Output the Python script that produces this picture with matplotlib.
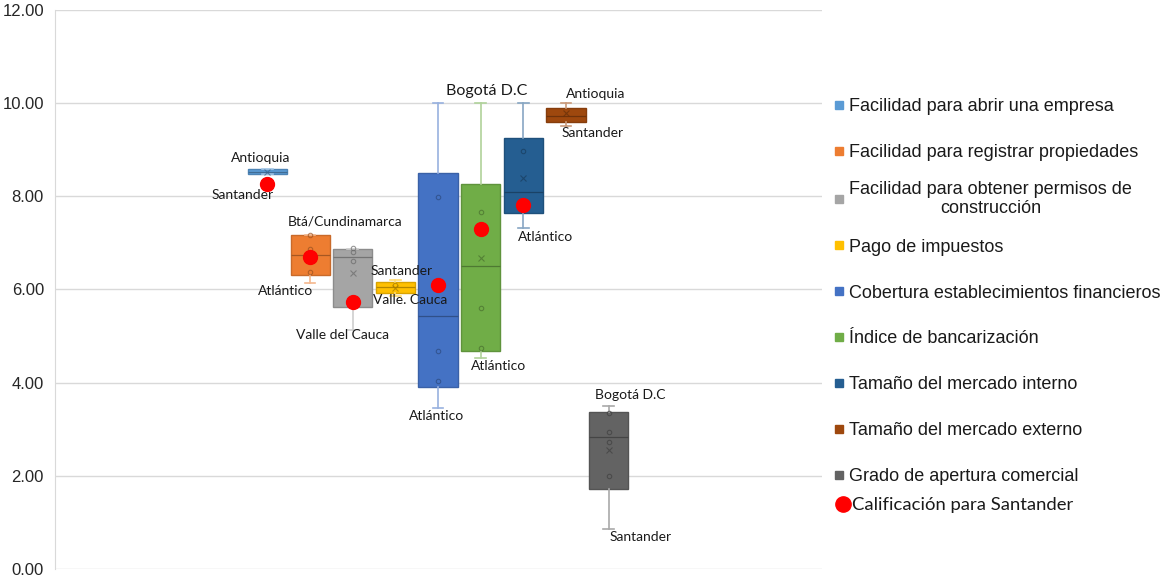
import numpy as np
import matplotlib.pyplot as plt
from matplotlib.lines import Line2D
from matplotlib.markers import MarkerStyle
from matplotlib.transforms import Affine2D
from matplotlib.colors import to_rgb

# --- data ---
series = ['Facilidad para abrir una empresa',
          'Facilidad para registrar propiedades',
          'Facilidad para obtener permisos de\nconstrucción',
          'Pago de impuestos',
          'Cobertura establecimientos financieros',
          'Índice de bancarización',
          'Tamaño del mercado interno',
          'Tamaño del mercado externo',
          'Grado de apertura comercial']
colors = ['#5B9BD5', '#ED7D31', '#A5A5A5', '#FFC000', '#4472C4',
          '#70AD47', '#255E91', '#9E480E', '#636363']

q1 = [8.48, 6.31, 5.62, 5.92, 3.91, 4.68, 7.64, 9.59, 1.72]
q3 = [8.58, 7.17, 6.87, 6.16, 8.50, 8.26, 9.25, 9.89, 3.37]
med = [8.53, 6.74, 6.70, 6.05, 5.43, 6.50, 8.09, 9.72, 2.83]
whislo = [8.48, 6.14, 5.13, 5.85, 3.45, 4.53, 7.32, 9.51, 0.86]
whishi = [8.58, 7.17, 6.87, 6.20, 10.0, 10.0, 10.0, 10.0, 3.50]
means = [8.53, 6.68, 6.35, 6.03, 6.10, 6.67, 8.39, 9.78, 2.55]
inner_pts = [[], [7.17, 6.87, 6.38], [6.90, 6.80, 6.62], [6.10],
             [7.98, 4.68, 4.03], [7.66, 5.60, 4.74], [8.97], [], [3.35, 2.94, 2.73, 2.00]]
santander = [8.26, 6.70, 5.73, np.nan, 6.09, 7.30, 7.81, np.nan, np.nan]

top_labels = ['Antioquia', 'Btá/Cundinamarca', None, 'Santander', None,
              'Bogotá D.C', None, 'Antioquia', 'Bogotá D.C']
bottom_labels = ['Santander', 'Atlántico', 'Valle del Cauca', 'Valle. Cauca', 'Atlántico',
                 'Atlántico', 'Atlántico', 'Santander', 'Santander']

# label offsets in pixels from the whisker ends
top_off = [(-7, 11), (35, 13), None, (6, 9), None, (6, 12), None, (30, 9), (22, 11)]
bot_off = [(-25, -21), (-25, -8), (-10, -5), (15, -4), (-2, -8), (18, -8), (22, -9), (27, -7), (32, -8)]


def mix(c, other, t):
    c = np.array(to_rgb(c))
    return tuple(c * (1 - t) + np.array(other) * t)


pos = np.arange(1, len(series) + 1)

fig = plt.figure(figsize=(11.66, 5.77), dpi=100)
ax = fig.add_axes([0.0472, 0.0139, 0.6578, 0.9688])

stats = []
for i in range(len(series)):
    stats.append(dict(med=med[i], q1=q1[i], q3=q3[i], whislo=whislo[i],
                      whishi=whishi[i], mean=means[i], fliers=[]))

bp = ax.bxp(stats, positions=pos, widths=0.92, patch_artist=True, showmeans=True,
            showfliers=False, capwidths=0.25, zorder=2)

for i, c in enumerate(colors):
    edge = mix(c, (0, 0, 0), 0.15)
    light = mix(c, (1, 1, 1), 0.45)
    bp['boxes'][i].set_facecolor(c)
    bp['boxes'][i].set_edgecolor(edge)
    bp['boxes'][i].set_linewidth(1.0)
    bp['medians'][i].set_color(mix(c, (0, 0, 0), 0.3))
    bp['medians'][i].set_linewidth(0.9)
    for ln in bp['whiskers'][2 * i:2 * i + 2] + bp['caps'][2 * i:2 * i + 2]:
        ln.set_color(light)
        ln.set_linewidth(1.2)
    m = bp['means'][i]
    m.set_marker('x')
    m.set_markersize(5)
    m.set_markeredgecolor(mix(c, (0, 0, 0), 0.35))
    m.set_markeredgewidth(0.8)
    m.set_alpha(0.7)
    if inner_pts[i]:
        ax.plot([pos[i]] * len(inner_pts[i]), inner_pts[i], 'o', ms=3.2, mfc='none',
                mec=mix(c, (0, 0, 0), 0.35), mew=0.8, alpha=0.7, zorder=3)

ax.plot(pos, santander, 'o', color='#FF0000', ms=10, ls='none', zorder=4)

for i in range(len(series)):
    if top_labels[i]:
        fs = 11.5 if i == 5 else 10
        ax.annotate(top_labels[i], xy=(pos[i], whishi[i]), xytext=top_off[i],
                    textcoords='offset pixels', ha='center', va='center',
                    fontsize=fs, family='Lato', color='#1a1a1a')
    ax.annotate(bottom_labels[i], xy=(pos[i], whislo[i]), xytext=bot_off[i],
                textcoords='offset pixels', ha='center', va='center',
                fontsize=10, family='Lato', color='#1a1a1a')

ax.set_xlim(-3.98, 14.0)
ax.set_ylim(0, 12)
ax.set_yticks(np.arange(0, 12.1, 2))
ax.set_yticklabels([f'{v:.2f}' for v in np.arange(0, 12.1, 2)],
                   family='Liberation Sans', fontsize=12, color='#262626')
ax.set_xticks([])
ax.tick_params(axis='y', length=0, pad=8)
ax.grid(axis='y', color='#D9D9D9', lw=1)
ax.set_axisbelow(True)
for s in ['top', 'right', 'bottom']:
    ax.spines[s].set_visible(False)
ax.spines['left'].set_color('#D9D9D9')

sq = MarkerStyle('s', transform=Affine2D().translate(0, -0.6))
handles = [Line2D([], [], marker=sq, ls='none', color=c, ms=6) for c in colors]
leg = fig.legend(handles, series, loc='upper left', bbox_to_anchor=(0.716, 0.846),
                 frameon=False, prop={'family': 'Liberation Sans', 'size': 13},
                 handlelength=0.5, handletextpad=0.3, handleheight=2.5,
                 labelspacing=0.67, borderpad=0, borderaxespad=0)
for t in leg.get_texts():
    t.set_multialignment('center')
    t.set_color('#1a1a1a')

leg2 = fig.legend([Line2D([], [], marker='o', ls='none', color='#FF0000', ms=11)],
                  ['Calificación para Santander'], loc='upper left',
                  bbox_to_anchor=(0.718, 0.138), frameon=False,
                  prop={'family': 'Lato', 'size': 13.3}, handlelength=0.6,
                  handletextpad=0.2, borderpad=0, borderaxespad=0)
for t in leg2.get_texts():
    t.set_color('#1a1a1a')

fig.savefig('out.png', dpi=100)
